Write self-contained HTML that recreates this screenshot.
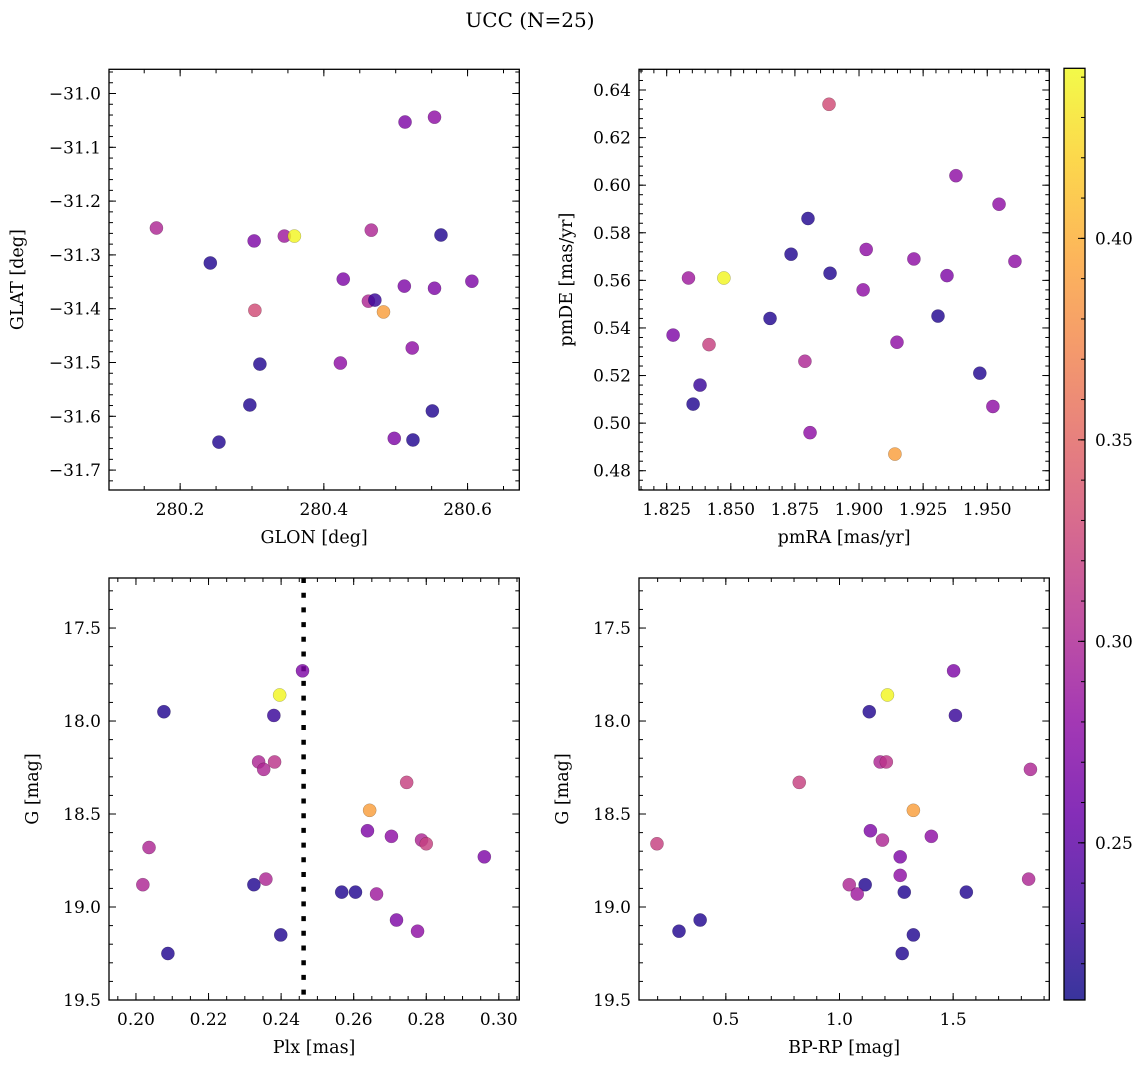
<!DOCTYPE html>
<html><head><meta charset="utf-8"><style>
html,body{margin:0;padding:0;background:#fff}
svg{display:block}
text{font-family:"DejaVu Serif","Liberation Serif",serif;fill:#000}
</style></head><body>
<svg id="fig" width="1148" height="1068" viewBox="0 0 1148 1068" xmlns="http://www.w3.org/2000/svg">
<defs>
<linearGradient id="plasma" x1="0" y1="1" x2="0" y2="0">
<stop offset="0" stop-color="#0d0887"/><stop offset="0.1" stop-color="#41049d"/><stop offset="0.2" stop-color="#6a00a8"/><stop offset="0.3" stop-color="#8f0da4"/><stop offset="0.4" stop-color="#b12a90"/><stop offset="0.5" stop-color="#cc4778"/><stop offset="0.6" stop-color="#e16462"/><stop offset="0.7" stop-color="#f2844b"/><stop offset="0.8" stop-color="#fca636"/><stop offset="0.9" stop-color="#fcce25"/><stop offset="1" stop-color="#f0f921"/>
</linearGradient>
</defs>
<text x="530" y="27" font-size="20" text-anchor="middle">UCC (N=25)</text>
</svg>
<script>
// ---- data ----
const glon = [280.167,280.242,280.303,280.345,280.359,280.304,280.311,280.297,280.254,280.466,280.427,280.462,280.471,280.483,280.513,280.554,280.563,280.512,280.554,280.606,280.523,280.423,280.551,280.498,280.524];
const glat = [-31.250,-31.315,-31.274,-31.265,-31.265,-31.403,-31.503,-31.579,-31.648,-31.254,-31.345,-31.386,-31.384,-31.406,-31.053,-31.044,-31.263,-31.358,-31.362,-31.349,-31.473,-31.501,-31.590,-31.641,-31.644];
const probP1 = [0.30,0.22,0.27,0.29,0.44,0.33,0.22,0.22,0.22,0.30,0.27,0.30,0.23,0.39,0.27,0.28,0.22,0.27,0.27,0.27,0.28,0.28,0.22,0.27,0.22];

const pmra = [1.8275,1.8335,1.8473,1.8380,1.8353,1.8415,1.8653,1.8735,1.8801,1.8883,1.8887,1.9028,1.9016,1.8789,1.8809,1.9148,1.9140,1.9214,1.9343,1.9308,1.9378,1.9546,1.9608,1.9471,1.9522];
const pmde = [0.537,0.561,0.561,0.516,0.508,0.533,0.544,0.571,0.586,0.634,0.563,0.573,0.556,0.526,0.496,0.534,0.487,0.569,0.562,0.545,0.604,0.592,0.568,0.521,0.507];
const probP2 = [0.27,0.29,0.44,0.23,0.22,0.32,0.22,0.22,0.22,0.33,0.22,0.28,0.28,0.30,0.28,0.28,0.39,0.28,0.27,0.22,0.28,0.28,0.28,0.22,0.28];

const plx = [0.2077,0.2396,0.2459,0.2380,0.2338,0.2352,0.2382,0.2746,0.2644,0.2638,0.2704,0.2787,0.2800,0.2960,0.2036,0.2019,0.2325,0.2358,0.2567,0.2605,0.2663,0.2718,0.2776,0.2399,0.2088];
const gmagP3 = [17.95,17.86,17.73,17.97,18.22,18.26,18.22,18.33,18.48,18.59,18.62,18.64,18.66,18.73,18.68,18.88,18.88,18.85,18.92,18.92,18.93,19.07,19.13,19.15,19.25];
const probP3 = [0.22,0.44,0.27,0.23,0.30,0.30,0.31,0.32,0.39,0.27,0.28,0.30,0.32,0.27,0.30,0.30,0.22,0.30,0.22,0.22,0.29,0.27,0.28,0.22,0.22];
const plxCut = [0.2462];

const bprp = [1.211,1.131,1.502,1.510,1.179,1.206,0.823,1.840,1.325,1.136,1.404,1.189,0.197,1.267,1.267,1.832,1.043,1.113,1.078,1.285,1.558,0.387,0.294,1.325,1.276];
const gmagP4 = [17.86,17.95,17.73,17.97,18.22,18.22,18.33,18.26,18.48,18.59,18.62,18.64,18.66,18.73,18.83,18.85,18.88,18.88,18.93,18.92,18.92,19.07,19.13,19.15,19.25];
const probP4 = [0.44,0.22,0.27,0.23,0.30,0.31,0.32,0.30,0.39,0.27,0.28,0.30,0.32,0.27,0.28,0.30,0.30,0.22,0.29,0.22,0.22,0.22,0.22,0.22,0.22];

const cbTicks = [0.25,0.30,0.35,0.40];
const cbRange = [0.211,0.4422];

// ---- helpers ----
const NS='http://www.w3.org/2000/svg';
const svg=document.getElementById('fig');
function mk(tag,attrs,parent){const e=document.createElementNS(NS,tag);for(const k in attrs)e.setAttribute(k,attrs[k]);(parent||svg).appendChild(e);return e;}
const stops=[[0,[13,8,135]],[0.1,[65,4,157]],[0.2,[106,0,168]],[0.3,[143,13,164]],[0.4,[177,42,144]],[0.5,[204,71,120]],[0.6,[225,100,98]],[0.7,[242,132,75]],[0.8,[252,166,54]],[0.9,[252,206,37]],[1,[240,249,33]]];
function plasma(t){t=Math.max(0,Math.min(1,t));for(let i=1;i<stops.length;i++){if(t<=stops[i][0]){const a=stops[i-1],b=stops[i];const f=(t-a[0])/(b[0]-a[0]);const c=a[1].map((v,j)=>Math.round(v+(b[1][j]-v)*f));return `rgb(${c[0]},${c[1]},${c[2]})`;}}return 'rgb(240,249,33)';}
function fmt(v,d){const s=v.toFixed(d);return s.replace('-','\u2212');}

function panel(cfg){
  const g=mk('g',{});
  
  
  const {L,T,R,B,xr,yr}=cfg;
  const sx=v=>L+(v-xr[0])/(xr[1]-xr[0])*(R-L);
  const sy=v=>cfg.invertY? T+(v-yr[0])/(yr[1]-yr[0])*(B-T) : B-(v-yr[0])/(yr[1]-yr[0])*(B-T);
  const eps=1e-9;
  for(let v=Math.ceil(xr[0]/cfg.xminor-eps)*cfg.xminor; v<=xr[1]+eps; v+=cfg.xminor){const x=sx(v);mk('line',{x1:x,x2:x,y1:B,y2:B-4,stroke:'#000','stroke-width':1},g);mk('line',{x1:x,x2:x,y1:T,y2:T+4,stroke:'#000','stroke-width':1},g);}
  for(let v=Math.ceil(yr[0]/cfg.yminor-eps)*cfg.yminor; v<=yr[1]+eps; v+=cfg.yminor){const y=sy(v);mk('line',{y1:y,y2:y,x1:L,x2:L+4,stroke:'#000','stroke-width':1},g);mk('line',{y1:y,y2:y,x1:R,x2:R-4,stroke:'#000','stroke-width':1},g);}
  cfg.xticks.forEach(v=>{const x=sx(v);mk('line',{x1:x,x2:x,y1:B,y2:B-7,stroke:'#000','stroke-width':1},g);mk('line',{x1:x,x2:x,y1:T,y2:T+7,stroke:'#000','stroke-width':1},g);
    const t=mk('text',{x:x,y:B+25,'font-size':17,'text-anchor':'middle'},g);t.textContent=fmt(v,cfg.xd);
    
    });
  cfg.yticks.forEach(v=>{const y=sy(v);mk('line',{y1:y,y2:y,x1:L,x2:L+7,stroke:'#000','stroke-width':1},g);mk('line',{y1:y,y2:y,x1:R,x2:R-7,stroke:'#000','stroke-width':1},g);
    const t=mk('text',{x:L-8,y:y+6,'font-size':17,'text-anchor':'end'},g);t.textContent=fmt(v,cfg.yd);
    
    });
  if(cfg.vline){const x=sx(cfg.vline[0]);const l=mk('line',{x1:x,x2:x,y1:T,y2:B,stroke:'#000','stroke-width':4.5,'stroke-dasharray':'5 9.7'},g);
    
    }
  cfg.xs.forEach((xv,i)=>{const c=mk('circle',{cx:sx(xv),cy:sy(cfg.ys[i]),r:6.6,fill:plasma((cfg.cs[i]-cbRange[0])/(cbRange[1]-cbRange[0])),'fill-opacity':0.82,stroke:'rgba(0,0,0,0.3)','stroke-width':0.5},g);
    
    });
  const fr=mk('rect',{x:L,y:T,width:R-L,height:B-T,fill:'none',stroke:'#000','stroke-width':1.3},g);
  
  
  const xl=mk('text',{x:(L+R)/2,y:B+53,'font-size':17.5,'text-anchor':'middle'},g);xl.textContent=cfg.xlabel;
  
  
  const yl=mk('text',{x:0,y:0,'font-size':17.5,'text-anchor':'middle',transform:`translate(${cfg.ylx},${(T+B)/2}) rotate(-90)`},g);yl.textContent=cfg.ylabel;
  
  
}

panel({name:'glon-glat-panel',L:109,T:69.3,R:519.3,B:490,xr:[280.101,280.672],yr:[-31.737,-30.955],xticks:[280.2,280.4,280.6],xminor:0.05,xd:1,yticks:[-31.7,-31.6,-31.5,-31.4,-31.3,-31.2,-31.1,-31.0],yminor:0.02,yd:1,xs:glon,ys:glat,cs:probP1,xlabel:'GLON [deg]',ylabel:'GLAT [deg]',ylx:23});
panel({name:'pm-panel',L:639,T:69.3,R:1049.3,B:490,xr:[1.8142,1.9742],yr:[0.4719,0.6487],xticks:[1.825,1.85,1.875,1.9,1.925,1.95],xminor:0.005,xd:3,yticks:[0.48,0.50,0.52,0.54,0.56,0.58,0.60,0.62,0.64],yminor:0.004,yd:2,xs:pmra,ys:pmde,cs:probP2,xlabel:'pmRA [mas/yr]',ylabel:'pmDE [mas/yr]',ylx:572});
panel({name:'plx-g-panel',L:109,T:578,R:519.3,B:1000,xr:[0.19257,0.30564],yr:[17.231,19.5],invertY:true,xticks:[0.20,0.22,0.24,0.26,0.28,0.30],xminor:0.005,xd:2,yticks:[17.5,18.0,18.5,19.0,19.5],yminor:0.1,yd:1,xs:plx,ys:gmagP3,cs:probP3,vline:plxCut,xlabel:'Plx [mas]',ylabel:'G [mag]',ylx:38});
panel({name:'cmd-panel',L:639,T:578,R:1049.3,B:1000,xr:[0.118,1.923],yr:[17.231,19.5],invertY:true,xticks:[0.5,1.0,1.5],xminor:0.1,xd:1,yticks:[17.5,18.0,18.5,19.0,19.5],yminor:0.1,yd:1,xs:bprp,ys:gmagP4,cs:probP4,xlabel:'BP-RP [mag]',ylabel:'G [mag]',ylx:568});

// colorbar
(function(){
  const L=1064,R=1085,T=68.3,B=1000;
  const g=mk('g',{});
  
  
  mk('rect',{x:L,y:T,width:R-L,height:B-T,fill:'url(#plasma)','fill-opacity':0.82},g);
  const sy=v=>B-(v-cbRange[0])/(cbRange[1]-cbRange[0])*(B-T);
  for(let v=Math.ceil(cbRange[0]/0.01)*0.01; v<=cbRange[1]; v+=0.01){const y=sy(v);mk('line',{x1:R,x2:R-4,y1:y,y2:y,stroke:'#000','stroke-width':1},g);}
  cbTicks.forEach(v=>{const y=sy(v);mk('line',{x1:R,x2:R-7,y1:y,y2:y,stroke:'#000','stroke-width':1},g);
    const t=mk('text',{x:1095,y:y+6,'font-size':17},g);t.textContent=v.toFixed(2);
    
    });
  mk('rect',{x:L,y:T,width:R-L,height:B-T,fill:'none',stroke:'#000','stroke-width':1.3},g);
})();
</script>
</body></html>
